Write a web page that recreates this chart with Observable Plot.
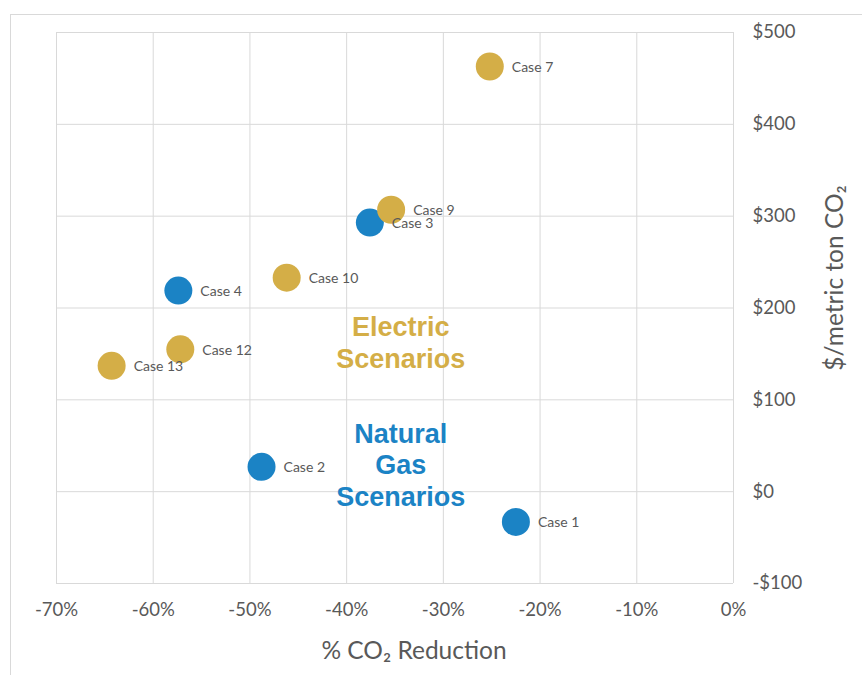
<!DOCTYPE html>
<html>
<head>
<meta charset="utf-8">
<script src="https://cdn.jsdelivr.net/npm/d3@7"></script>
<script src="https://cdn.jsdelivr.net/npm/@observablehq/plot@0.6"></script>
<style>
  html, body { margin: 0; padding: 0; background: #ffffff; }
  #wrap { position: relative; width: 862px; height: 675px; overflow: hidden; }
  #border { position: absolute; left: 10px; top: 14px; width: 900px; height: 700px;
            border-top: 1px solid #d9d9d9; border-left: 1px solid #d9d9d9; box-sizing: border-box; }
  #chart { position: absolute; left: 0; top: 0; }
</style>
</head>
<body>
<div id="wrap"><div id="border"></div><div id="chart"></div></div>
<script>
// Natural gas scenarios (blue)
const gasCases = ["Case 1", "Case 2", "Case 3", "Case 4"];
const gasReduction = [-22.5, -48.8, -37.6, -57.4];
const gasCost = [-33, 27, 293, 219];

// Electric scenarios (gold)
const elecCases = ["Case 7", "Case 9", "Case 10", "Case 12", "Case 13"];
const elecReduction = [-25.2, -35.4, -46.2, -57.2, -64.3];
const elecCost = [463, 307, 233, 155, 137];

// Axis ticks
const xTicks = [-70, -60, -50, -40, -30, -20, -10, 0];
const yTicks = [-100, 0, 100, 200, 300, 400, 500];

// Group annotations
const groupLabels = ["Electric\nScenarios", "Natural\nGas\nScenarios"];
const groupX = [-34.4, -34.4];
const groupY = [163, 30];

const xTitle = "% CO₂ Reduction";
const yTitle = "$/metric ton CO₂";

const BLUE = "#1b83c5";
const GOLD = "#d4ae47";
const TEXT = "#595959";
const GRID = "#d9d9d9";

const gas = gasCases.map((c, i) => ({name: c, x: gasReduction[i], y: gasCost[i]}));
const elec = elecCases.map((c, i) => ({name: c, x: elecReduction[i], y: elecCost[i]}));
const groups = groupLabels.map((t, i) => ({text: t, x: groupX[i], y: groupY[i], fill: i === 0 ? GOLD : BLUE}));

const chart = Plot.plot({
  width: 862,
  height: 675,
  marginLeft: 56,
  marginRight: 129,
  marginTop: 32,
  marginBottom: 92,
  style: {fontFamily: "Lato, sans-serif", background: "transparent", color: TEXT},
  x: {domain: [-70, 0]},
  y: {domain: [-100, 500]},
  marks: [
    Plot.gridX(xTicks, {stroke: GRID, strokeOpacity: 1}),
    Plot.gridY(yTicks, {stroke: GRID, strokeOpacity: 1}),
    Plot.axisX(xTicks, {tickSize: 0, tickPadding: 19, fontSize: 18.5, label: null,
      tickFormat: d => `${d}%`}),
    Plot.axisY(yTicks, {anchor: "right", tickSize: 0, tickPadding: 19, fontSize: 18.5, label: null,
      tickFormat: d => d < 0 ? `-$${-d}` : `$${d}`}),
    Plot.dot(gas, {x: "x", y: "y", r: 14, fill: BLUE}),
    Plot.dot(elec, {x: "x", y: "y", r: 14, fill: GOLD}),
    Plot.text([...gas, ...elec], {x: "x", y: "y", text: "name", dx: 22, dy: 1, textAnchor: "start",
      fontSize: 14, fill: TEXT}),
    Plot.text(groups, {x: "x", y: "y", text: "text", fill: "fill", fontSize: 27, fontWeight: "bold",
      lineHeight: 1.17, fontFamily: "Liberation Sans, Arial, sans-serif"}),
    Plot.text([xTitle], {frameAnchor: "bottom", dy: 75, dx: 19, fontSize: 24.5, fill: TEXT}),
    Plot.text([yTitle], {frameAnchor: "right", textAnchor: "middle", rotate: -90, dx: 102, dy: -30,
      fontSize: 24.5, fill: TEXT})
  ]
});
document.getElementById("chart").appendChild(chart);
</script>
</body>
</html>
